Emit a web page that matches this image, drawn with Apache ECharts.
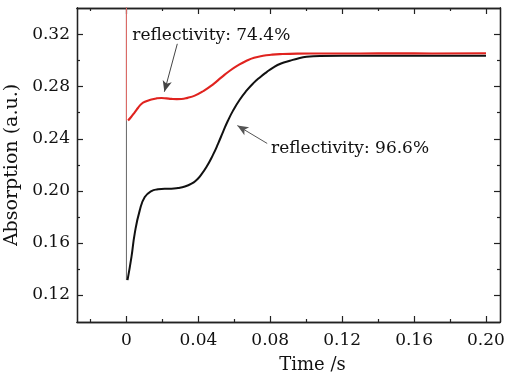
<!DOCTYPE html>
<html>
<head>
<meta charset="utf-8">
<script src="https://cdn.jsdelivr.net/npm/echarts@6/dist/echarts.min.js"></script>
<style>
  html, body { margin: 0; padding: 0; background: #fff; }
  #main { width: 505px; height: 380px; }
</style>
</head>
<body>
<div id="main"></div>
<script>
// time (s), absorption (a.u.)
const redTime = [0.0009, 0.0025, 0.0046, 0.0065, 0.0083, 0.011, 0.0139, 0.0167, 0.0195, 0.0222, 0.025, 0.028, 0.0306,
  0.034, 0.038, 0.043, 0.0482, 0.053, 0.0575, 0.062, 0.0668, 0.071, 0.076, 0.0805, 0.0853, 0.095, 0.11, 0.13,
  0.15, 0.17, 0.20];
const redValue = [0.2540, 0.2565, 0.2603, 0.2638, 0.2667, 0.2688, 0.2702, 0.2710, 0.2713, 0.2710, 0.2706, 0.2704, 0.2705,
  0.2714, 0.2731, 0.2768, 0.2818, 0.2873, 0.2922, 0.2963, 0.2999, 0.3022, 0.3037, 0.3045, 0.3050, 0.3054, 0.3055, 0.3055,
  0.3056, 0.3055, 0.3056];

const blackTime = [0.0006, 0.0028, 0.0046, 0.0074, 0.0102, 0.0139, 0.0175, 0.0213, 0.025, 0.0287, 0.0325, 0.0362, 0.039,
  0.0408, 0.0445, 0.0482, 0.051, 0.0538, 0.0565, 0.0593, 0.063, 0.0668, 0.0705, 0.0742, 0.078, 0.0816, 0.086, 0.0909,
  0.0955, 0.1002, 0.1076, 0.12, 0.14, 0.16, 0.18, 0.20];
const blackValue = [0.1315, 0.1493, 0.1672, 0.1850, 0.1952, 0.1998, 0.2012, 0.2017, 0.2017, 0.2022, 0.2033, 0.2055, 0.2083,
  0.2110, 0.2183, 0.2278, 0.2363, 0.2455, 0.2540, 0.2616, 0.2700, 0.2769, 0.2825, 0.2871, 0.2912, 0.2947, 0.2978, 0.2999,
  0.3017, 0.3029, 0.3036, 0.3038, 0.3038, 0.3037, 0.3038, 0.3038];

// the spike at t = 0 (runs off the top of the plot)
const spikeTime = [0, 0];
const redSpike = [0.345, 0.2540];
const blackSpike = [0.345, 0.1315];

const xMajor = [0, 0.04, 0.08, 0.12, 0.16, 0.20];
const xMinor = [-0.02, 0.02, 0.06, 0.10, 0.14, 0.18];
const yMajor = [0.12, 0.16, 0.20, 0.24, 0.28, 0.32];
const yMinor = [0.14, 0.18, 0.22, 0.26, 0.30];

const labelRed = 'reflectivity: 74.4%';
const labelBlack = 'reflectivity: 96.6%';

const font = 'DejaVu Serif';
const xRange = [-0.0275, 0.2078];
const yRange = [0.0993, 0.3404];

const pair = (t, v) => t.map((x, i) => [x, v[i]]);

function xAxisCfg(pos, ticks, len, labels) {
  return {
    type: 'value', position: pos, min: xRange[0], max: xRange[1],
    axisLine: {show: true, onZero: false, lineStyle: {color: '#222', width: 1.3}},
    axisTick: {show: true, inside: true, length: len, customValues: ticks, lineStyle: {color: '#222', width: 1.2}},
    axisLabel: labels ? {
      show: true, customValues: ticks, margin: 10,
      fontFamily: font, fontSize: 17, color: '#111',
      formatter: v => v === 0 ? '0' : v.toFixed(2)
    } : {show: false},
    splitLine: {show: false}
  };
}
function yAxisCfg(pos, ticks, len, labels) {
  return {
    type: 'value', position: pos, min: yRange[0], max: yRange[1],
    axisLine: {show: true, onZero: false, lineStyle: {color: '#222', width: 1.3}},
    axisTick: {show: true, inside: true, length: len, customValues: ticks, lineStyle: {color: '#222', width: 1.2}},
    axisLabel: labels ? {
      show: true, customValues: ticks, margin: 7,
      fontFamily: font, fontSize: 17, color: '#111',
      formatter: v => v.toFixed(2)
    } : {show: false},
    splitLine: {show: false}
  };
}

const chart = echarts.init(document.getElementById('main'));
const xMain = xAxisCfg('bottom', xMajor, 6, true);
xMain.name = 'Time /s';
xMain.nameLocation = 'middle';
xMain.nameGap = 34;
xMain.nameTextStyle = {fontFamily: font, fontSize: 18, color: '#111', padding: [0, 0, 0, 48]};
const yMain = yAxisCfg('left', yMajor, 6, true);
yMain.name = 'Absorption (a.u.)';
yMain.nameLocation = 'middle';
yMain.nameGap = 52;
yMain.nameTextStyle = {fontFamily: font, fontSize: 19, color: '#111'};

chart.setOption({
  animation: false,
  backgroundColor: '#fff',
  grid: {left: 77, right: 5, top: 8, bottom: 58, outerBoundsMode: 'none'},
  xAxis: [
    xMain,
    xAxisCfg('bottom', xMinor, 3, false),
    xAxisCfg('top', xMajor, 6, false),
    xAxisCfg('top', xMinor, 3, false)
  ],
  yAxis: [
    yMain,
    yAxisCfg('left', yMinor, 3, false),
    yAxisCfg('right', yMajor, 6, false),
    yAxisCfg('right', yMinor, 3, false)
  ],
  series: [
    {
      type: 'line', data: pair(spikeTime, blackSpike), showSymbol: false,
      lineStyle: {color: '#666', width: 1}
    },
    {
      type: 'line', name: 'black', data: pair(blackTime, blackValue),
      showSymbol: false, smooth: 0.5,
      lineStyle: {color: '#111', width: 2},
      markLine: {
        silent: true, symbol: ['none', 'arrow'], symbolSize: [7, 11],
        lineStyle: {color: '#555', width: 1, type: 'solid'},
        label: {show: false},
        data: [[{coord: [0.0783, 0.2364]}, {coord: [0.0617, 0.2501]}]]
      },
      markPoint: {
        silent: true, symbol: 'circle', symbolSize: 0,
        label: {show: true, position: 'inside', formatter: labelBlack, fontFamily: font, fontSize: 17, color: '#111'},
        data: [{coord: [0.1244, 0.2325]}]
      }
    },
    {
      type: 'line', data: pair(spikeTime, redSpike), showSymbol: false,
      lineStyle: {color: '#e46a66', width: 1}
    },
    {
      type: 'line', name: 'red', data: pair(redTime, redValue),
      showSymbol: false, smooth: 0.5,
      lineStyle: {color: '#e0231f', width: 2.1},
      markLine: {
        silent: true, symbol: ['none', 'arrow'], symbolSize: [7, 11],
        lineStyle: {color: '#444', width: 1, type: 'solid'},
        label: {show: false},
        data: [[{coord: [0.0283, 0.3129]}, {coord: [0.0211, 0.2761]}]]
      },
      markPoint: {
        silent: true, symbol: 'circle', symbolSize: 0,
        label: {show: true, position: 'inside', formatter: labelRed, fontFamily: font, fontSize: 17, color: '#111'},
        data: [{coord: [0.0472, 0.319]}]
      }
    }
  ]
});
</script>
</body>
</html>
